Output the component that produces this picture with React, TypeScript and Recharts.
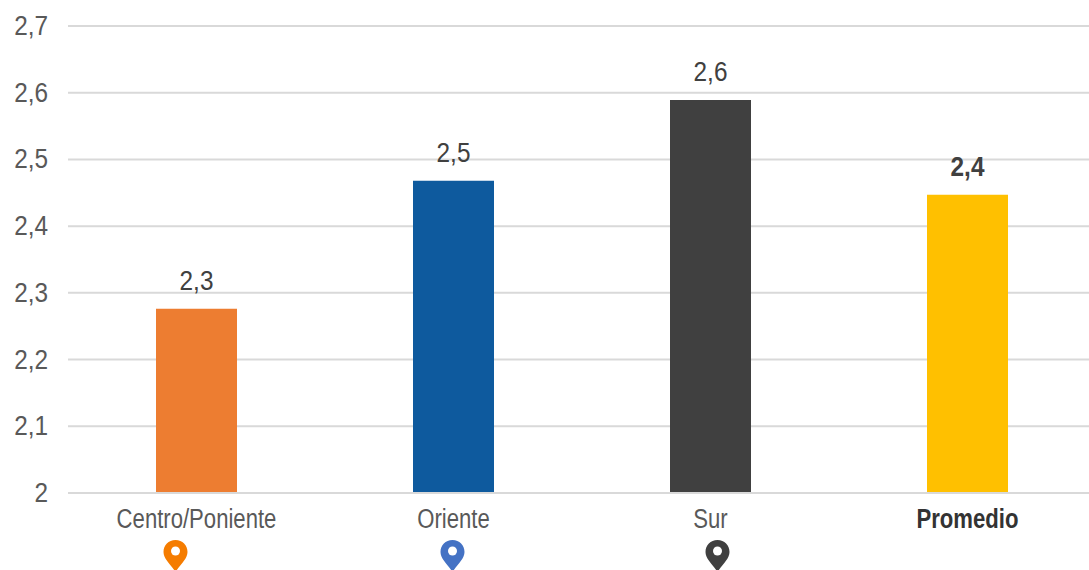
import { BarChart, Bar, Cell, CartesianGrid, XAxis, YAxis, LabelList } from 'recharts'

const CATEGORIES = ['Centro/Poniente', 'Oriente', 'Sur', 'Promedio']
const VALUES = [2.276, 2.468, 2.589, 2.447]
const BAR_COLORS = ['#ED7D31', '#0E5A9E', '#404040', '#FFC000']
const Y_TICKS = [2, 2.1, 2.2, 2.3, 2.4, 2.5, 2.6, 2.7]

// location pins under the category names, not all centred on their category
const PIN_COLORS = ['#F57C00', '#4472C4', '#404040', null]
const PIN_OFFSETS = [-21, -1, 7, 0]

const FONT = '"Liberation Sans", sans-serif'
const SUMMARY = 'Promedio'

const rows = CATEGORIES.map((name, i) => ({ name, value: VALUES[i], color: BAR_COLORS[i] }))

const decimal = (v: number) => (Number.isInteger(v) ? String(v) : v.toFixed(1).replace('.', ','))

// the installed fonts have no condensed cut, so squeeze the text horizontally
function NarrowText({ x, y, squeeze, anchor = 'middle', size = 28, bold = false, fill, children }: any) {
  return (
    <text
      transform={`translate(${x},${y}) scale(${squeeze},1)`}
      textAnchor={anchor}
      fontFamily={FONT}
      fontSize={size}
      fontWeight={bold ? 700 : 400}
      fill={fill}
    >
      {children}
    </text>
  )
}

function CategoryTick({ x, y, payload, index }: any) {
  const bold = payload.value === SUMMARY
  const pin = PIN_COLORS[index]
  const px = x + PIN_OFFSETS[index]
  const py = y + 51
  return (
    <g>
      <NarrowText x={x} y={y + 27} squeeze={0.79} bold={bold} fill={bold ? '#333333' : '#595959'}>
        {payload.value}
      </NarrowText>
      {pin && (
        <g transform={`translate(${px},${py})`}>
          <path
            d="M0 -12 C7 -12 12 -7 12 0 C12 7 5 12 0 20 C-5 12 -12 7 -12 0 C-12 -7 -7 -12 0 -12 Z"
            fill={pin}
          />
          <circle cx={0} cy={-1} r={4.5} fill="#fff" />
        </g>
      )}
    </g>
  )
}

function ValueTick({ y, payload }: any) {
  return (
    <NarrowText x={48} y={y + 9} squeeze={0.87} anchor="end" fill="#595959">
      {decimal(payload.value)}
    </NarrowText>
  )
}

function ValueLabel({ x, y, width, value, index }: any) {
  const bold = CATEGORIES[index] === SUMMARY
  return (
    <NarrowText x={x + width / 2} y={y - 19} squeeze={0.87} bold={bold} fill="#404040">
      {decimal(value)}
    </NarrowText>
  )
}

export default function App() {
  return (
    <div style={{ position: 'absolute', left: 0, top: 0, width: 1089, height: 570, overflow: 'hidden', background: '#fff' }}>
      <BarChart
        width={1096}
        height={570}
        data={rows}
        margin={{ top: 26, right: 0, bottom: 0, left: 0 }}
      >
        <CartesianGrid vertical={false} stroke="#D9D9D9" strokeWidth={2} />
        <XAxis
          dataKey="name"
          axisLine={{ stroke: '#D9D9D9', strokeWidth: 2 }}
          tickLine={false}
          tick={<CategoryTick />}
          interval={0}
          height={77}
        />
        <YAxis
          width={68}
          domain={[2, 2.7]}
          ticks={Y_TICKS}
          axisLine={false}
          tickLine={false}
          tick={<ValueTick />}
        />
        <Bar dataKey="value" barSize={81} isAnimationActive={false}>
          {rows.map((r) => (
            <Cell key={r.name} fill={r.color} />
          ))}
          <LabelList dataKey="value" content={<ValueLabel />} />
        </Bar>
      </BarChart>
    </div>
  )
}
